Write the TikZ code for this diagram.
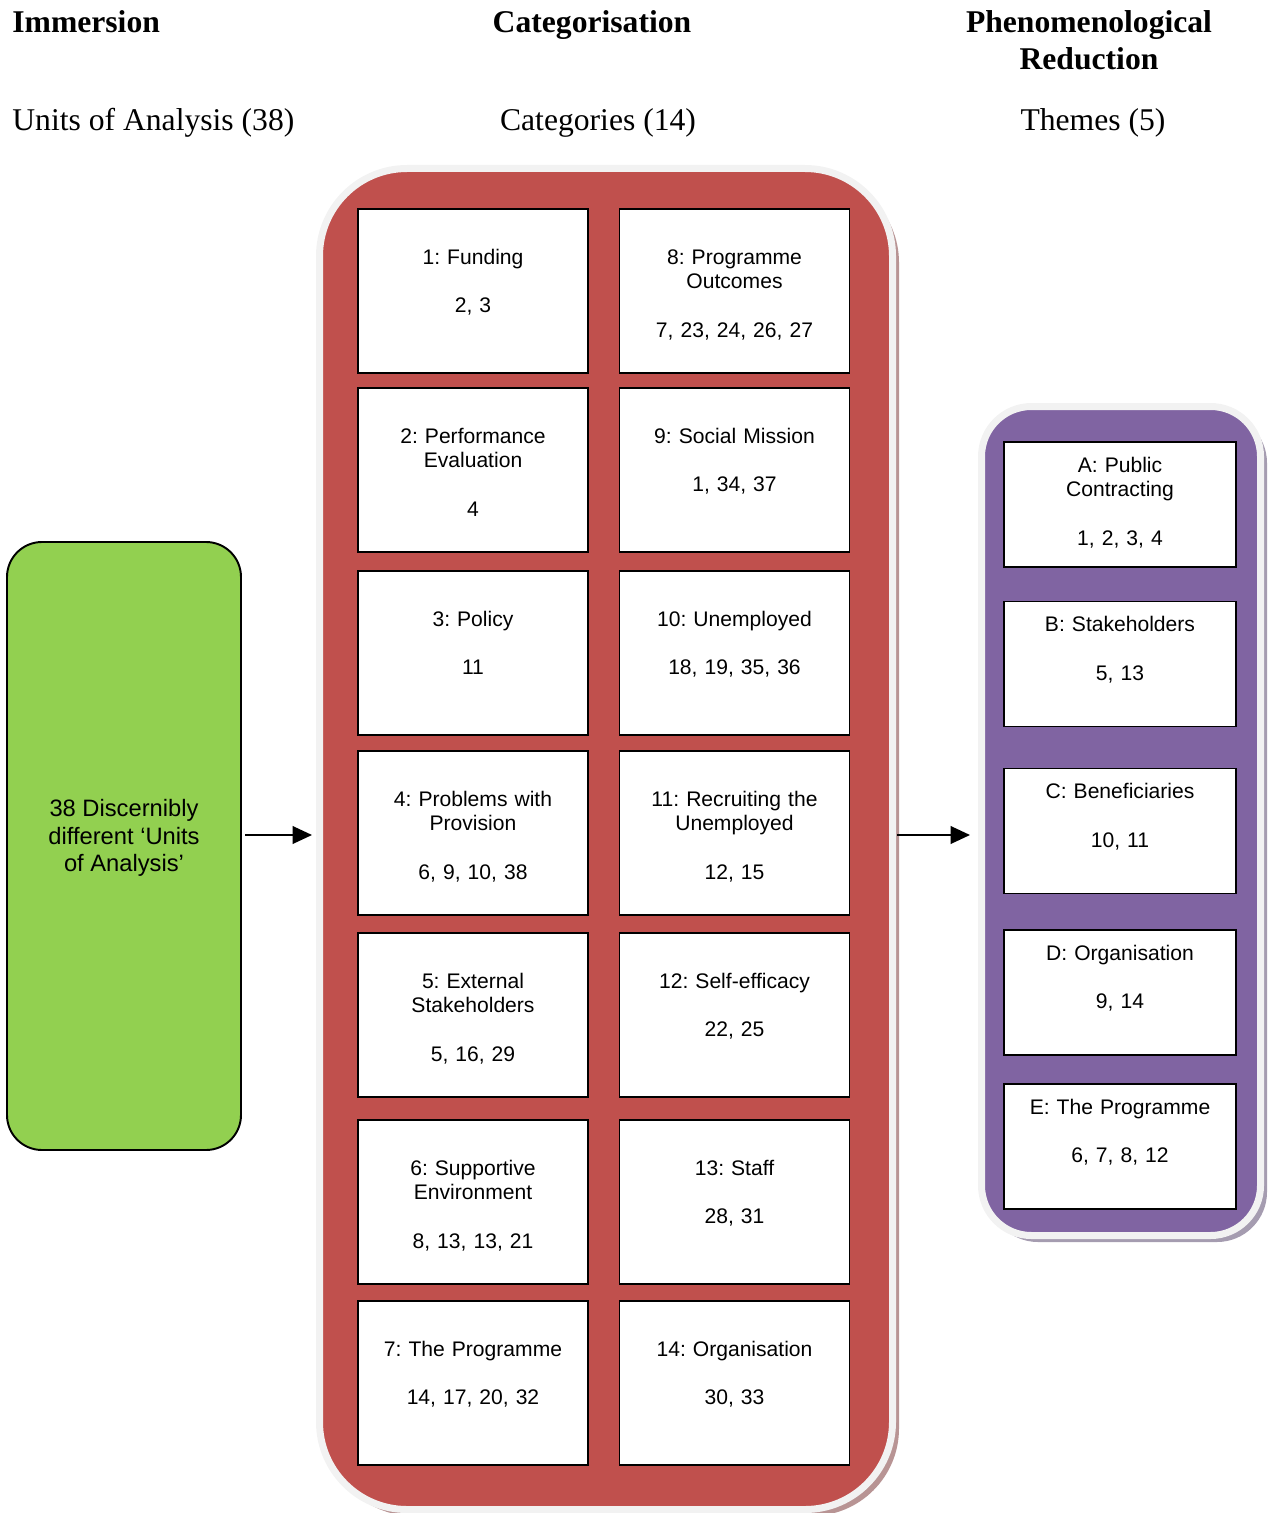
\documentclass[tikz,border=0pt]{standalone}
\usepackage{fontspec}
\setmainfont{Liberation Serif}
\setsansfont{Liberation Sans}
\usepackage{xcolor}
\usepackage{tikz}
\usetikzlibrary{arrows.meta, positioning, shadows}
\definecolor{unitgreen}{HTML}{92D050}
\definecolor{catred}{HTML}{C0504D}
\definecolor{themepurple}{HTML}{8064A2}
\definecolor{ringgrey}{HTML}{F2F2F2}
\definecolor{redshade}{HTML}{B89494}
\definecolor{purpleshade}{HTML}{A59CB0}
\frenchspacing

\begin{document}
\begin{tikzpicture}[
  heading/.style={font=\fontsize{18}{21}\selectfont\bfseries, inner sep=0pt},
  subheading/.style={font=\fontsize{18}{21}\selectfont, inner sep=0pt},
  frame/.style={rectangle, draw=ringgrey, line width=0.14cm},
  catbox/.style={rectangle, draw=black, line width=1.1pt, fill=white, minimum width=4.6cm, minimum height=3.28cm},
  themebox/.style={rectangle, draw=black, line width=1.1pt, fill=white, minimum width=4.64cm, minimum height=2.5cm},
  boxtext/.style={font=\sffamily\fontsize{12}{13.9}\selectfont, text width=4.4cm, align=center, anchor=base, inner sep=0pt},
  flow/.style={-{Triangle[length=11pt, width=10pt]}, line width=1.1pt}
]
  \useasboundingbox (0,0) rectangle (25.44,-30.26);

  % column headings
  \node[heading, anchor=base west] (immersion) at (0.24,-0.66) {Immersion};
  \node[heading, anchor=base] (categorisation) at (11.84,-0.66) {Categorisation};
  \node[heading, anchor=base, text width=6cm, align=center] (reduction) at (21.78,-0.66) {Phenomenological\\Reduction};
  \node[subheading, anchor=base west] (unitshead) at (0.24,-2.62) {Units of Analysis (38)};
  \node[subheading, anchor=base] (catshead) at (11.96,-2.62) {Categories (14)};
  \node[subheading, anchor=base] (themeshead) at (21.86,-2.62) {Themes (5)};

  % units of analysis
  \node[rectangle, draw=black, line width=1.1pt, fill=unitgreen, rounded corners=0.7cm, minimum width=4.68cm, minimum height=12.16cm] (units) at (2.48,-16.92) {};
  \node[font=\sffamily\fontsize{13.5}{15.5}\selectfont, align=center] (unitstext) at (2.48,-16.76) {38 Discernibly\\different ‘Units\\of Analysis’};

  % categories
  \node[frame, fill=catred, rounded corners=1.75cm, minimum width=11.46cm, minimum height=26.82cm,
        drop shadow={shadow xshift=0.13cm, shadow yshift=-0.13cm, fill=redshade, opacity=1}] (cats) at (12.12,-16.78) {};

  \node[catbox] (cat1) at (9.46,-5.82) {};
  \node[boxtext] (cat1text) at ([yshift=-1.12cm]cat1.north) {1: Funding\\[13.9pt]2, 3};
  \node[catbox] (cat2) at (9.46,-9.40) {};
  \node[boxtext] (cat2text) at ([yshift=-1.12cm]cat2.north) {2: Performance\\Evaluation\\[13.9pt]4};
  \node[catbox] (cat3) at (9.46,-13.06) {};
  \node[boxtext] (cat3text) at ([yshift=-1.12cm]cat3.north) {3: Policy\\[13.9pt]11};
  \node[catbox] (cat4) at (9.46,-16.66) {};
  \node[boxtext] (cat4text) at ([yshift=-1.12cm]cat4.north) {4: Problems with\\Provision\\[13.9pt]6, 9, 10, 38};
  \node[catbox] (cat5) at (9.46,-20.30) {};
  \node[boxtext] (cat5text) at ([yshift=-1.12cm]cat5.north) {5: External\\Stakeholders\\[13.9pt]5, 16, 29};
  \node[catbox] (cat6) at (9.46,-24.04) {};
  \node[boxtext] (cat6text) at ([yshift=-1.12cm]cat6.north) {6: Supportive\\Environment\\[13.9pt]8, 13, 13, 21};
  \node[catbox] (cat7) at (9.46,-27.66) {};
  \node[boxtext] (cat7text) at ([yshift=-1.12cm]cat7.north) {7: The Programme\\[13.9pt]14, 17, 20, 32};

  \node[catbox] (cat8) at (14.69,-5.82) {};
  \node[boxtext] (cat8text) at ([yshift=-1.12cm]cat8.north) {8: Programme\\Outcomes\\[13.9pt]7, 23, 24, 26, 27};
  \node[catbox] (cat9) at (14.69,-9.40) {};
  \node[boxtext] (cat9text) at ([yshift=-1.12cm]cat9.north) {9: Social Mission\\[13.9pt]1, 34, 37};
  \node[catbox] (cat10) at (14.69,-13.06) {};
  \node[boxtext] (cat10text) at ([yshift=-1.12cm]cat10.north) {10: Unemployed\\[13.9pt]18, 19, 35, 36};
  \node[catbox] (cat11) at (14.69,-16.66) {};
  \node[boxtext] (cat11text) at ([yshift=-1.12cm]cat11.north) {11: Recruiting the\\Unemployed\\[13.9pt]12, 15};
  \node[catbox] (cat12) at (14.69,-20.30) {};
  \node[boxtext] (cat12text) at ([yshift=-1.12cm]cat12.north) {12: Self-efficacy\\[13.9pt]22, 25};
  \node[catbox] (cat13) at (14.69,-24.04) {};
  \node[boxtext] (cat13text) at ([yshift=-1.12cm]cat13.north) {13: Staff\\[13.9pt]28, 31};
  \node[catbox] (cat14) at (14.69,-27.66) {};
  \node[boxtext] (cat14text) at ([yshift=-1.12cm]cat14.north) {14: Organisation\\[13.9pt]30, 33};

  % themes
  \node[frame, fill=themepurple, rounded corners=1.0cm, minimum width=5.58cm, minimum height=16.58cm,
        drop shadow={shadow xshift=0.13cm, shadow yshift=-0.13cm, fill=purpleshade, opacity=1}] (themes) at (22.42,-16.42) {};

  \node[themebox] (themeA) at (22.40,-10.09) {};
  \node[boxtext] (themeAtext) at ([yshift=-0.62cm]themeA.north) {A: Public\\Contracting\\[13.9pt]1, 2, 3, 4};
  \node[themebox] (themeB) at (22.40,-13.28) {};
  \node[boxtext] (themeBtext) at ([yshift=-0.62cm]themeB.north) {B: Stakeholders\\[13.9pt]5, 13};
  \node[themebox] (themeC) at (22.40,-16.62) {};
  \node[boxtext] (themeCtext) at ([yshift=-0.62cm]themeC.north) {C: Beneficiaries\\[13.9pt]10, 11};
  \node[themebox] (themeD) at (22.40,-19.85) {};
  \node[boxtext] (themeDtext) at ([yshift=-0.62cm]themeD.north) {D: Organisation\\[13.9pt]9, 14};
  \node[themebox] (themeE) at (22.40,-22.93) {};
  \node[boxtext] (themeEtext) at ([yshift=-0.62cm]themeE.north) {E: The Programme\\[13.9pt]6, 7, 8, 12};

  % arrows between the stages
  \coordinate (midrow) at (0,-16.70);
  \draw[flow, shorten <=0.07cm, shorten >=0.08cm] (units.east |- midrow) -- (cats.west |- midrow);
  \draw[flow, shorten <=0.02cm, shorten >=0.16cm] (cats.east |- midrow) -- (themes.west |- midrow);
\end{tikzpicture}
\end{document}
